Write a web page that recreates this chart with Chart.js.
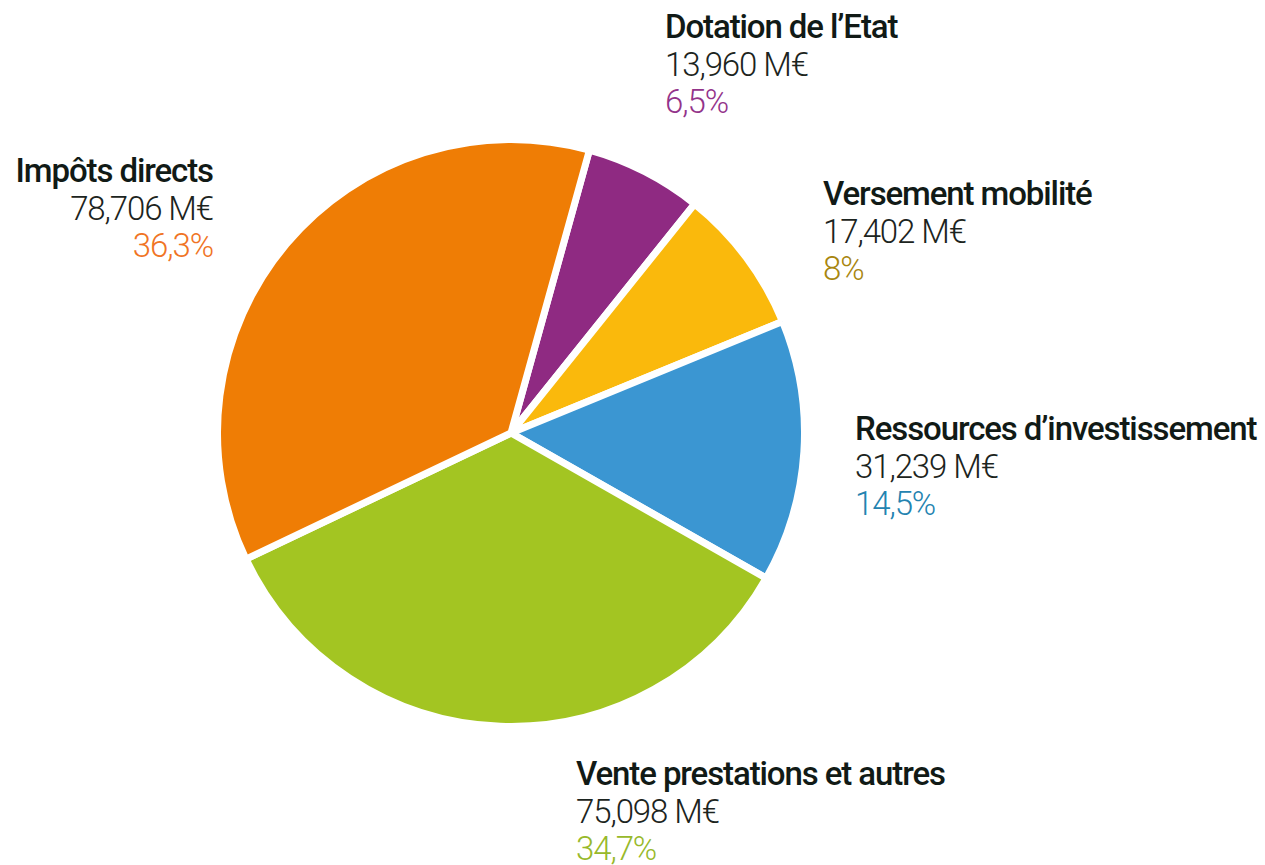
<!DOCTYPE html>
<html>
<head>
<meta charset="utf-8">
<script src="https://cdn.jsdelivr.net/npm/chart.js@4"></script>
<style>
  html, body { margin: 0; padding: 0; background: #fff; }
  body { width: 1265px; height: 865px; position: relative; overflow: hidden; font-family: Roboto, sans-serif; }
  #wrap { position: absolute; left: 214px; top: 136px; width: 594px; height: 594px; }
  .lbl { position: absolute; font-size: 33px; line-height: 37.5px; letter-spacing: -1.1px; white-space: nowrap; }
  .lbl .t { font-weight: 500; color: #111a16; }
  .lbl .v { font-weight: 300; color: #1c2420; }
</style>
</head>
<body>
<div id="wrap"><canvas id="pie"></canvas></div>
<div id="labels"></div>
<script>
const categories = ['Dotation de l\u2019Etat', 'Versement mobilité', 'Ressources d\u2019investissement', 'Vente prestations et autres', 'Impôts directs'];
const amounts = [13.960, 17.402, 31.239, 75.098, 78.706];
const amountLabels = ['13,960 M€', '17,402 M€', '31,239 M€', '75,098 M€', '78,706 M€'];
const percentLabels = ['6,5%', '8%', '14,5%', '34,7%', '36,3%'];
const sliceColors = ['#8f2a82', '#fab90c', '#3b96d2', '#a3c522', '#ef7d05'];
const percentColors = ['#93338a', '#a8860e', '#2383b0', '#98b92a', '#f07424'];

// label boxes: left/right anchor and top
const labelPos = [
  { left: 665, top: 8 },
  { left: 823, top: 175 },
  { left: 855, top: 410 },
  { left: 576, top: 755 },
  { right: 1265 - 213, top: 152, align: 'right' },
];

const holder = document.getElementById('labels');
categories.forEach((c, i) => {
  let d = document.createElement('div');
  d.className = 'lbl';
  let p = labelPos[i];
  if (p.left !== undefined) d.style.left = p.left + 'px';
  if (p.right !== undefined) d.style.right = p.right + 'px';
  d.style.top = p.top + 'px';
  d.style.textAlign = p.align || 'left';
  d.innerHTML = `<div class="t">${c}</div><div class="v">${amountLabels[i]}</div><div class="v" style="color:${percentColors[i]}">${percentLabels[i]}</div>`;
  holder.appendChild(d);
});

const pieChart = new Chart(document.getElementById('pie'), {
  type: 'pie',
  data: {
    labels: categories,
    datasets: [{
      data: amounts,
      backgroundColor: sliceColors,
      borderColor: '#ffffff',
      borderWidth: 7,
    }]
  },
  options: {
    responsive: true,
    maintainAspectRatio: false,
    animation: false,
    rotation: 15.5,
    layout: { padding: 0 },
    plugins: {
      legend: { display: false },
      tooltip: { enabled: false },
    }
  }
});
</script>
</body>
</html>
